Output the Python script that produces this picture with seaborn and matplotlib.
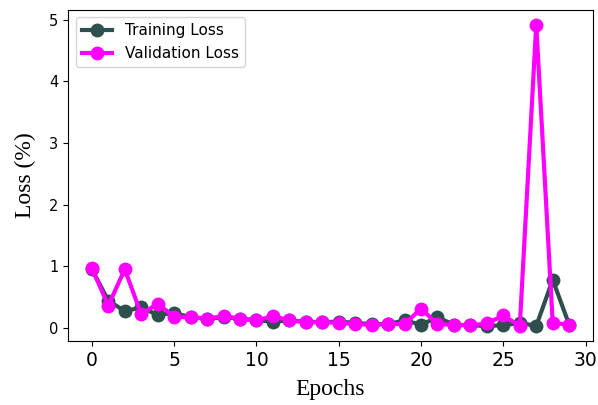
import matplotlib
matplotlib.use("Agg")
import matplotlib.pyplot as plt
import seaborn as sns
import pandas as pd

epochs = list(range(30))
training_loss = [0.95, 0.44, 0.27, 0.33, 0.21, 0.24, 0.17, 0.15, 0.17, 0.15,
                 0.12, 0.10, 0.12, 0.10, 0.09, 0.10, 0.08, 0.06, 0.06, 0.12,
                 0.05, 0.17, 0.05, 0.04, 0.03, 0.04, 0.08, 0.03, 0.78, 0.05]
validation_loss = [0.97, 0.36, 0.95, 0.22, 0.39, 0.18, 0.17, 0.15, 0.19, 0.15,
                   0.12, 0.19, 0.12, 0.09, 0.09, 0.08, 0.06, 0.05, 0.06, 0.06,
                   0.31, 0.06, 0.05, 0.04, 0.07, 0.20, 0.03, 4.92, 0.08, 0.05]

df = pd.DataFrame({"Epoch": epochs, "Training Loss": training_loss,
                   "Validation Loss": validation_loss})

fig = plt.figure(figsize=(5.98, 4.05), dpi=100)
ax = fig.add_axes([0.1137, 0.158, 0.878, 0.8185])

sns.lineplot(data=df, x="Epoch", y="Training Loss", ax=ax, color="#2F4F4F",
             marker="o", markersize=10, linewidth=3, markeredgewidth=0,
             label="Training Loss")
sns.lineplot(data=df, x="Epoch", y="Validation Loss", ax=ax, color="#FF00FF",
             marker="o", markersize=10, linewidth=3, markeredgewidth=0,
             label="Validation Loss")

ax.set_xlabel("Epochs", fontfamily="Liberation Serif", fontsize=17, labelpad=7)
ax.set_ylabel("Loss (%)", fontfamily="Liberation Serif", fontsize=17, labelpad=9)
ax.tick_params(axis="x", labelsize=13.5)
ax.tick_params(axis="y", labelsize=10.5)
ax.legend(loc="upper left", fontsize=11)

fig.savefig("out.png", dpi=100)
